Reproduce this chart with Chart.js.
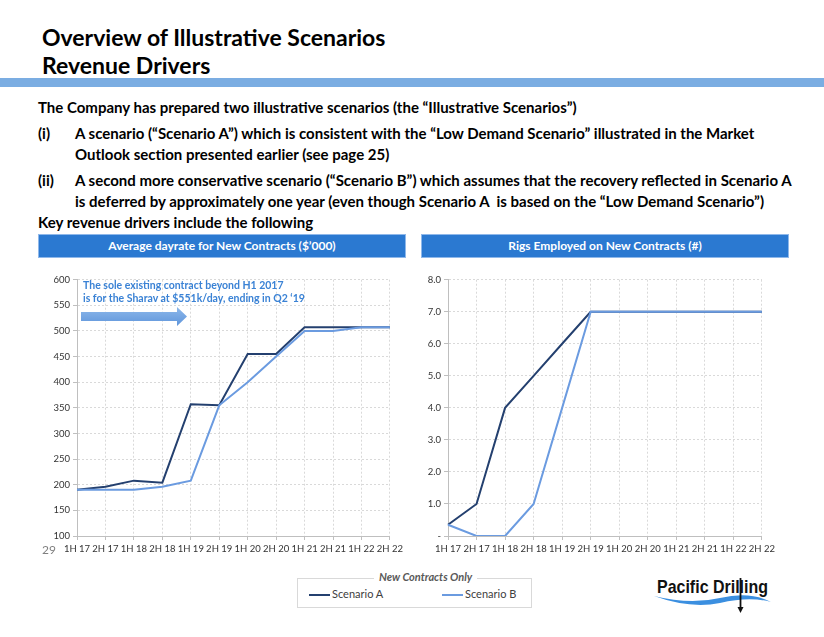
<!DOCTYPE html>
<html>
<head>
<meta charset="utf-8">
<script src="https://cdn.jsdelivr.net/npm/chart.js@4.4.1/dist/chart.umd.min.js"></script>
<style>
  body{margin:0;width:824px;height:637px;background:#fff;position:relative;overflow:hidden;font-family:Lato,'Open Sans',sans-serif;}
  .abs{position:absolute;}
  .title{left:42px;font-size:23px;font-weight:bold;color:#000;line-height:28px;}
  .band{left:0;top:78px;width:824px;height:9px;background:#7badE2;}
  .txt{font-size:15px;font-weight:bold;color:#000;line-height:20px;white-space:nowrap;}
  .hdr{top:234px;height:22px;background:#2b79d1;border:1px solid #8fb8ea;color:#fff;font-size:12px;font-weight:bold;text-align:center;line-height:22px;}
  .note{left:83px;top:279px;font-size:10.5px;font-weight:bold;color:#3a82d5;line-height:12.5px;white-space:nowrap;}
  .legend{left:297px;top:578px;width:233px;height:28px;border:1px solid #d9d9d9;}
  .legtitle{left:374px;top:570px;padding:0 5px;background:#fff;font-size:11px;font-style:italic;font-weight:bold;color:#595959;}
  .legitem{font-size:11px;color:#404040;line-height:14px;}
  .legline{display:inline-block;width:21px;height:2px;vertical-align:middle;margin-right:2px;}
</style>
</head>
<body>
<div class="abs title" style="top:23px">Overview of Illustrative Scenarios</div>
<div class="abs title" style="top:51px">Revenue Drivers</div>
<div class="abs band"></div>

<div class="abs txt" style="left:38px;top:97px">The Company has prepared two illustrative scenarios (the “Illustrative Scenarios”)</div>
<div class="abs txt" style="left:38px;top:123px">(i)</div>
<div class="abs txt" style="left:75px;top:123px">A scenario (“Scenario A”) which is consistent with the “Low Demand Scenario” illustrated in the Market</div>
<div class="abs txt" style="left:75px;top:144px">Outlook section presented earlier (see page 25)</div>
<div class="abs txt" style="left:38px;top:170px">(ii)</div>
<div class="abs txt" style="left:75px;top:170px">A second more conservative scenario (“Scenario B”) which assumes that the recovery reflected in Scenario A</div>
<div class="abs txt" style="left:75px;top:191px">is deferred by approximately one year (even though Scenario A&nbsp; is based on the “Low Demand Scenario”)</div>
<div class="abs txt" style="left:38px;top:212px">Key revenue drivers include the following</div>

<div class="abs hdr" style="left:38px;width:366px">Average dayrate for New Contracts ($’000)</div>
<div class="abs hdr" style="left:421px;width:366px">Rigs Employed on New Contracts (#)</div>

<canvas id="dayrateChart" class="abs" style="left:40px;top:271px" width="366" height="283"></canvas>
<canvas id="rigsChart" class="abs" style="left:411px;top:271px" width="367" height="283"></canvas>

<div class="abs note">The sole existing contract beyond H1 2017<br>is for the Sharav at $551k/day, ending in Q2 ‘19</div>
<svg class="abs" style="left:81px;top:306px" width="108" height="22">
  <defs>
    <linearGradient id="arrowGrad" x1="0" y1="0" x2="0" y2="1">
      <stop offset="0" stop-color="#8db8ea"/>
      <stop offset="1" stop-color="#5f95db"/>
    </linearGradient>
  </defs>
  <polygon points="0,6 96,6 96,1 106,10.5 96,20 96,15 0,15" fill="url(#arrowGrad)"/>
</svg>

<div class="abs" style="left:42px;top:542px;font-size:12px;color:#7f7f7f">29</div>

<div class="abs legend"></div>
<div class="abs legtitle">New Contracts Only</div>
<div class="abs legitem" style="left:309px;top:587px"><span class="legline" style="background:#24406f"></span>Scenario A</div>
<div class="abs legitem" style="left:442px;top:587px"><span class="legline" style="background:#6b9be0"></span>Scenario B</div>

<svg class="abs" style="left:650px;top:572px" width="125" height="44">
  <text x="7" y="21" font-family="Liberation Sans, sans-serif" font-weight="bold" font-size="19" fill="#111" textLength="111" lengthAdjust="spacingAndGlyphs">Pacific Drilling</text>
  <path d="M4,24 Q40,33 70,26 Q100,19 121,30 Q100,24 70,31 Q40,37 4,24 Z" fill="#3b8fe0"/>
  <line x1="90.5" y1="6" x2="90.5" y2="37" stroke="#111" stroke-width="1.8"/>
  <polygon points="87.5,35 93.5,35 90.5,41" fill="#111"/>
</svg>

<script>
const categories = ['1H 17','2H 17','1H 18','2H 18','1H 19','2H 19','1H 20','2H 20','1H 21','2H 21','1H 22','2H 22'];
const dayrateA = [190,196,208,204,357,355,455,455,507,507,507,507];
const dayrateB = [190,190,190,196,208,355,400,450,500,500,507,507];
const rigsA = [0.35,1,4,5,6,7,7,7,7,7,7,7];
const rigsB = [0.35,0,0,1,4,7,7,7,7,7,7,7];

const colorA = '#24406f';
const colorB = '#6b9be0';

function makeLine(el, a, b, yMin, yMax, step, fmt){
    return new Chart(document.getElementById(el), {
        type: 'line',
        data: {
            labels: categories,
            datasets: [
                {label: 'Scenario B', data: b, borderColor: colorB, borderWidth: 2, pointRadius: 0, tension: 0, fill: false},
                {label: 'Scenario A', data: a, borderColor: colorA, borderWidth: 2, pointRadius: 0, tension: 0, fill: false}
            ]
        },
        options: {
            responsive: false,
            animation: false,
            layout: {padding: {top: 8, right: 14, left: 0, bottom: 0}},
            plugins: {legend: {display: false}, tooltip: {enabled: false}},
            scales: {
                x: {
                    grid: {color: '#d9d9d9', tickLength: 4, tickColor: '#bfbfbf'},
                    border: {color: '#bfbfbf', dash: [2, 2]},
                    ticks: {font: {family: 'Lato', size: 9.5}, color: '#333', padding: 3, maxRotation: 0, autoSkip: false},
                    afterFit: s => { s.height = 18; }
                },
                y: {
                    min: yMin, max: yMax,
                    grid: {color: '#d9d9d9', tickLength: 4, tickColor: '#bfbfbf'},
                    border: {color: '#bfbfbf', dash: [2, 2]},
                    ticks: {stepSize: step, font: {family: 'Lato', size: 9.5}, color: '#333', padding: 3, callback: fmt},
                    afterFit: s => { s.width = 37; }
                }
            }
        }
    });
}

makeLine('dayrateChart', dayrateA, dayrateB, 100, 600, 50, v => v);
makeLine('rigsChart', rigsA, rigsB, 0, 8, 1, v => v === 0 ? '-' : v.toFixed(1));
</script>
</body>
</html>
